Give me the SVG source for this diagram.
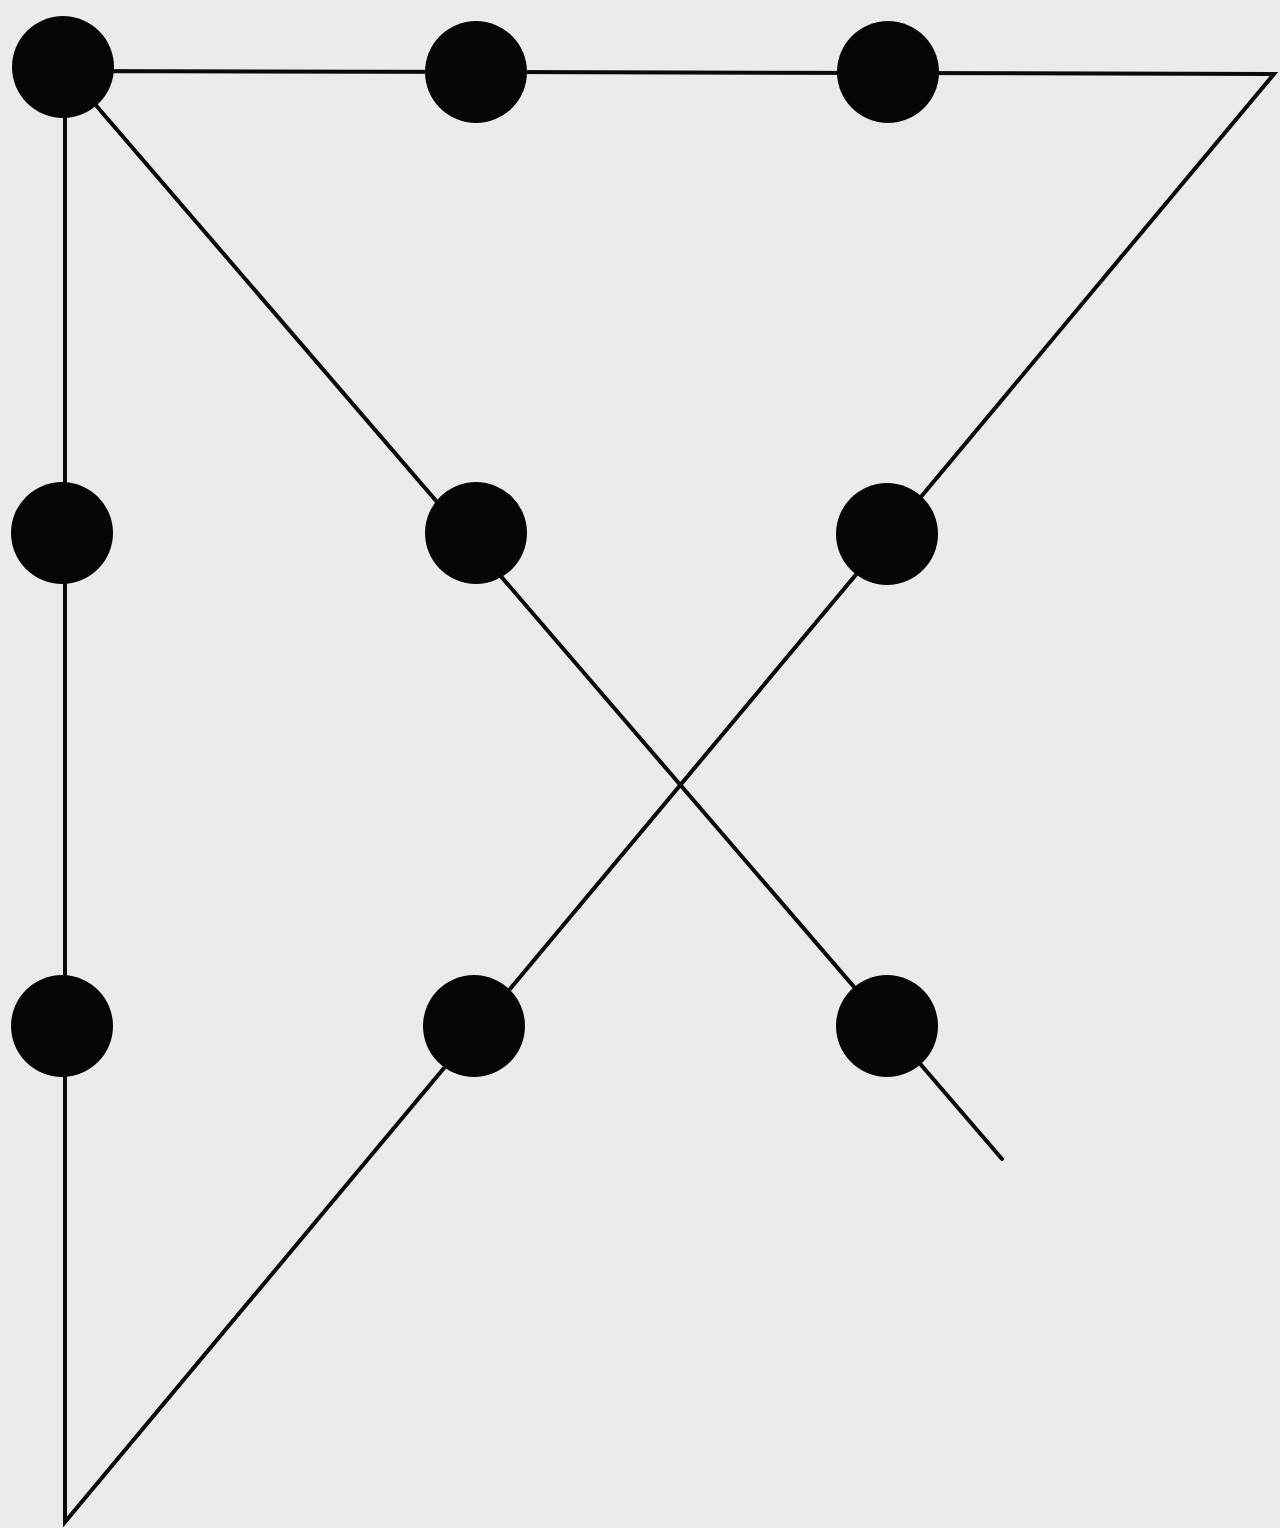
<svg xmlns="http://www.w3.org/2000/svg" width="1280" height="1528" viewBox="0 0 1280 1528">
<style>
.dot{fill:#050505}
.ln{stroke:#0a0a0a;stroke-width:4;fill:none;stroke-linecap:round;stroke-linejoin:miter}
</style>
<rect width="1280" height="1528" fill="#ebebeb"/>
<g id="connectors">
<polyline class="ln" points="65,71 1274,74 65,1522 65,71"/>
<line class="ln" x1="63" y1="67" x2="1002" y2="1159"/>
</g>
<g id="dot-1-1"><circle class="dot" cx="63" cy="67" r="51"/></g>
<g id="dot-1-2"><circle class="dot" cx="476" cy="72" r="51"/></g>
<g id="dot-1-3"><circle class="dot" cx="888" cy="72" r="51"/></g>
<g id="dot-2-1"><circle class="dot" cx="62" cy="533" r="51"/></g>
<g id="dot-2-2"><circle class="dot" cx="476" cy="533" r="51"/></g>
<g id="dot-2-3"><circle class="dot" cx="887" cy="534" r="51"/></g>
<g id="dot-3-1"><circle class="dot" cx="62" cy="1026" r="51"/></g>
<g id="dot-3-2"><circle class="dot" cx="474" cy="1026" r="51"/></g>
<g id="dot-3-3"><circle class="dot" cx="887" cy="1026" r="51"/></g>
</svg>
